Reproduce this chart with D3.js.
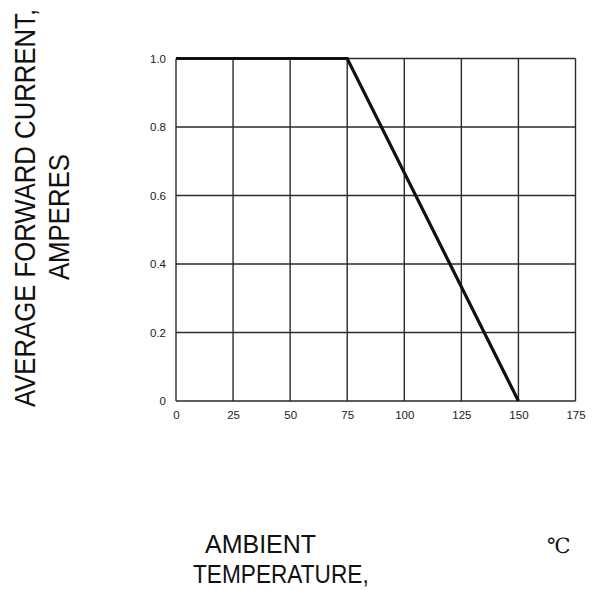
<!DOCTYPE html>
<head>
<meta charset="utf-8">
<script type="text/javascript" src="https://d3js.org/d3.v7.min.js"></script>
<style>
body {
	margin: 0;
	background: #fff;
	font-family: "Liberation Sans", Arial, sans-serif;
}
.grid line {
	stroke: #2a2a2a;
	stroke-width: 1.4;
}
.tick text {
	font-size: 11.5px;
	fill: #222;
}
.title {
	font-size: 25px;
	fill: #111;
}
</style>
</head>

<body>
<svg id="chart" width="593" height="590"></svg>

<script>
// derating curve
var temps   = [0, 75, 150];
var current = [1.0, 1.0, 0];

var xTicks = [0, 25, 50, 75, 100, 125, 150, 175];
var yTicks = [0, 0.2, 0.4, 0.6, 0.8, 1.0];
var yLabels = ["0", "0.2", "0.4", "0.6", "0.8", "1.0"];

var svg = d3.select("#chart");

var x = d3.scaleLinear().domain([0, 175]).range([176, 575.5]);
var y = d3.scaleLinear().domain([0, 1.0]).range([401, 58.5]);

// grid lines
var grid = svg.append("g").attr("class", "grid");
grid.selectAll("line.v").data(xTicks).enter().append("line")
	.attr("class", "v")
	.attr("x1", d => x(d)).attr("x2", d => x(d))
	.attr("y1", y(1.0)).attr("y2", y(0));
grid.selectAll("line.h").data(yTicks).enter().append("line")
	.attr("class", "h")
	.attr("x1", x(0)).attr("x2", x(175))
	.attr("y1", d => y(d)).attr("y2", d => y(d));

// axes (labels only)
var xAxis = svg.append("g").attr("transform", `translate(0,${y(0)})`)
	.call(d3.axisBottom(x).tickValues(xTicks).tickSize(0).tickPadding(10));
xAxis.select(".domain").remove();

var yAxis = svg.append("g").attr("transform", `translate(${x(0)},0)`)
	.call(d3.axisLeft(y).tickValues(yTicks).tickSize(0).tickPadding(10)
		.tickFormat((d, i) => yLabels[i]));
yAxis.select(".domain").remove();
svg.selectAll(".tick text").attr("font-family", "'Liberation Sans', Arial, sans-serif");

// curve
var pts = temps.map((t, i) => [t, current[i]]);
svg.append("path")
	.datum(pts)
	.attr("fill", "none")
	.attr("stroke", "#111")
	.attr("stroke-width", 3.2)
	.attr("stroke-linejoin", "miter")
	.attr("d", d3.line().x(d => x(d[0])).y(d => y(d[1])));

// y title (tall, slightly condensed lettering)
svg.append("text").attr("class", "title")
	.style("font-size", "29px")
	.attr("text-anchor", "middle")
	.attr("transform", "translate(35,208) rotate(-90) scale(0.887,1)")
	.text("AVERAGE FORWARD CURRENT,");
svg.append("text").attr("class", "title")
	.style("font-size", "29px")
	.attr("text-anchor", "middle")
	.attr("transform", "translate(69,217) rotate(-90) scale(0.89,1)")
	.text("AMPERES");

// x title
svg.append("text").attr("class", "title")
	.attr("x", 205).attr("y", 553)
	.text("AMBIENT");
svg.append("text").attr("class", "title")
	.attr("transform", "translate(193,583) scale(0.906,1)")
	.text("TEMPERATURE,");
svg.append("text").attr("class", "title")
	.attr("x", 547).attr("y", 553)
	.attr("font-family", "'Liberation Serif', 'DejaVu Serif', serif")
	.style("font-size", "21px")
	.text("\u2103");
</script>
</body>
</html>
